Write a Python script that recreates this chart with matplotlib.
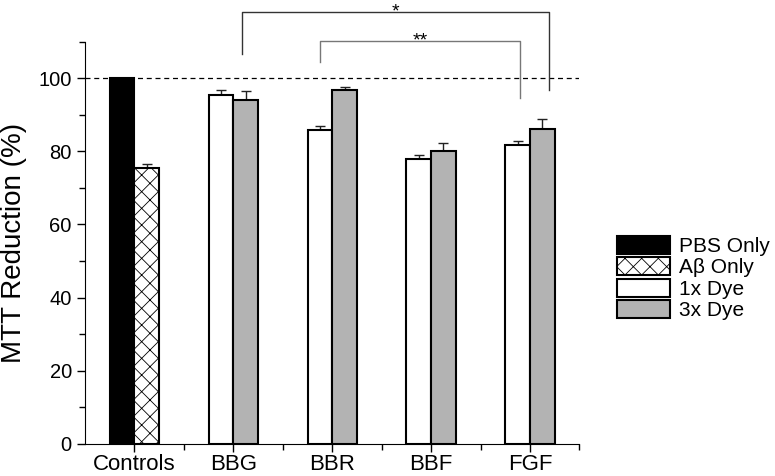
import numpy as np
import matplotlib
matplotlib.use("Agg")
import matplotlib.pyplot as plt

plt.rcParams['font.family'] = ['Liberation Sans', 'DejaVu Sans']
plt.rcParams['hatch.linewidth'] = 0.6

categories = ["Controls", "BBG", "BBR", "BBF", "FGF"]
pbs_only = [100.0]
abeta_only = [75.4]
abeta_err = [1.1]
dye_1x = [95.5, 86.0, 77.9, 81.7]
dye_1x_err = [1.3, 0.9, 1.1, 1.1]
dye_3x = [94.2, 96.8, 80.1, 86.1]
dye_3x_err = [2.3, 0.8, 2.1, 2.7]

# significance brackets: (x_left, x_right, y_top, y_left_end, y_right_end, label, color)
brackets = [
    (1.09, 4.19, 118.1, 106.6, 96.8, "*", "#333333"),
    (1.88, 3.90, 110.3, 104.5, 94.7, "**", "#777777"),
]

w = 0.25
fig = plt.figure(figsize=(7.75, 4.76), dpi=100)
ax = fig.add_axes([0.1097, 0.068, 0.638, 0.844])

err_kw = dict(ecolor="#222222", elinewidth=1.0, capsize=3.5, capthick=1.0)
x0 = np.array([0])
xd = np.arange(1, len(categories))

ax.bar(x0 - w / 2, pbs_only, w, color="black", edgecolor="black", lw=1.5,
       label="PBS Only", zorder=3)
ax.bar(x0 + w / 2, abeta_only, w, color="white", edgecolor="black", lw=1.5,
       hatch="xx", label="A\u03b2 Only", zorder=3)
ax.errorbar(x0 + w / 2, abeta_only, yerr=[[0], abeta_err], fmt="none", zorder=2, **err_kw)

ax.bar(xd - w / 2, dye_1x, w, color="white", edgecolor="black", lw=1.5,
       label="1x Dye", zorder=3)
ax.bar(xd + w / 2, dye_3x, w, color="#b3b3b3", edgecolor="black", lw=1.5,
       label="3x Dye", zorder=3)
ax.errorbar(xd - w / 2, dye_1x, yerr=[[0] * 4, dye_1x_err], fmt="none", zorder=2, **err_kw)
ax.errorbar(xd + w / 2, dye_3x, yerr=[[0] * 4, dye_3x_err], fmt="none", zorder=2, **err_kw)

ax.axhline(100, color="black", ls=(0, (4, 3)), lw=0.9, zorder=1)

for xl, xr, yt, yl, yr, lab, col in brackets:
    ax.plot([xl, xl, xr, xr], [yl, yt, yt, yr], color=col, lw=1.0, clip_on=False)
    ax.text((xl + xr) / 2, yt - 1.2, lab, ha="center", va="baseline", fontsize=14,
            color="black", clip_on=False)

ax.set_xlim(-0.5, 4.5)
ax.set_ylim(0, 110)
ax.set_xticks(range(len(categories)))
ax.set_xticklabels(categories, fontsize=16)
ax.set_xticks(np.arange(0.5, 4.6, 1.0), minor=True)
ax.set_yticks([0, 20, 40, 60, 80, 100])
ax.set_yticks(np.arange(10, 111, 20), minor=True)
ax.tick_params(axis="both", which="major", direction="out", length=6, width=1.0)
ax.tick_params(axis="x", which="major", pad=1.5)
ax.tick_params(axis="y", which="major", labelsize=14.5)
ax.tick_params(axis="both", which="minor", direction="out", length=4, width=1.0)
ax.spines["top"].set_visible(False)
ax.spines["right"].set_visible(False)
ax.set_ylabel("MTT Reduction (%)", fontsize=20, labelpad=8)

fig.legend(loc="upper left", bbox_to_anchor=(0.772, 0.544), frameon=False,
           fontsize=15, handlelength=2.55, handleheight=0.96, labelspacing=0.06,
           handletextpad=0.4)

fig.savefig("out.png", dpi=100)
